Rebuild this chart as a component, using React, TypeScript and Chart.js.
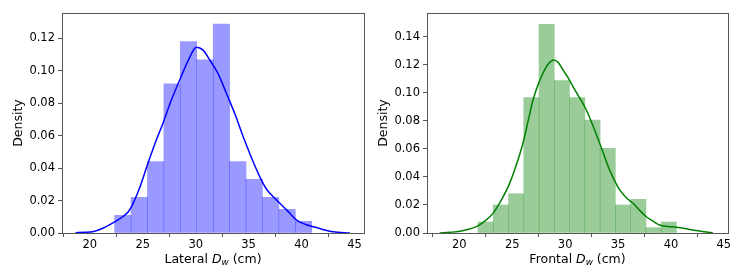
import React, { useEffect, useRef } from "react";
import { Chart, registerables } from "chart.js";

Chart.register(...registerables);

// ---------- data ----------
const lateralBinCenters = [23.12, 24.67, 26.22, 27.77, 29.32, 30.88, 32.43, 33.98, 35.53, 37.08, 38.64, 40.19];
const lateralDensity = [0.0109, 0.022, 0.044, 0.092, 0.118, 0.1068, 0.1288, 0.044, 0.0331, 0.022, 0.0146, 0.0072];
const lateralKdeX = [18.65, 19.5, 20.28, 21.23, 22.34, 23.2, 23.76, 24.6, 25.49, 26.2, 26.91, 27.7, 28.49, 29.3, 30.07, 30.7, 31.32, 32.1, 32.9, 33.7, 34.48, 35.3, 36.05, 36.69, 37.3, 37.95, 38.7, 39.53, 40.3, 41.1, 42.0, 42.99, 44.57];
const lateralKdeY = [0.0002, 0.0004, 0.0008, 0.0029, 0.0068, 0.0105, 0.0142, 0.026, 0.043, 0.056, 0.0677, 0.082, 0.0944, 0.1065, 0.1146, 0.1128, 0.1068, 0.0985, 0.0862, 0.0735, 0.0595, 0.046, 0.0348, 0.027, 0.0225, 0.0183, 0.0135, 0.008, 0.0055, 0.0039, 0.0022, 0.0008, 0.0];

const frontalBinCenters = [22.48, 23.92, 25.37, 26.81, 28.25, 29.69, 31.14, 32.58, 34.02, 35.46, 36.91, 38.35, 39.79];
const frontalDensity = [0.0078, 0.02, 0.028, 0.0965, 0.1488, 0.1087, 0.0965, 0.0806, 0.0604, 0.02, 0.024, 0.0038, 0.0078];
const frontalKdeX = [18.14, 19.1, 20.03, 20.8, 21.6, 22.4, 23.18, 24.0, 24.75, 25.4, 26.01, 26.5, 26.96, 27.45, 27.9, 28.4, 28.91, 29.35, 29.79, 30.3, 30.74, 31.4, 32.0, 32.6, 33.26, 33.7, 34.2, 34.7, 35.15, 35.8, 36.41, 37.0, 37.67, 38.3, 38.93, 39.7, 40.51, 41.3, 42.08, 43.97];
const frontalKdeY = [0.0, 0.0005, 0.0012, 0.0025, 0.0045, 0.0085, 0.014, 0.024, 0.0354, 0.049, 0.064, 0.08, 0.0949, 0.106, 0.1139, 0.1205, 0.1234, 0.1215, 0.1163, 0.1105, 0.1044, 0.096, 0.0877, 0.077, 0.064, 0.055, 0.0449, 0.037, 0.0307, 0.025, 0.0212, 0.0165, 0.0116, 0.0085, 0.0057, 0.0047, 0.0041, 0.0032, 0.0021, 0.0];

const xTickValues = [20, 25, 30, 35, 40, 45];
const lateralYTicks = [0, 0.02, 0.04, 0.06, 0.08, 0.1, 0.12];
const frontalYTicks = [0, 0.02, 0.04, 0.06, 0.08, 0.1, 0.12, 0.14];

const FONT = "'DejaVu Sans', 'Liberation Sans', sans-serif";
const AXIS_COLOR = "#555";

type PanelProps = {
  left: number;
  width: number;
  height: number;
  yAxisWidth: number;
  padRight: number;
  centers: number[];
  density: number[];
  kdeX: number[];
  kdeY: number[];
  yTicks: number[];
  xMin: number;
  xMax: number;
  yMax: number;
  barColor: string;
  lineColor: string;
  label: string;
};

function Panel(p: PanelProps) {
  const ref = useRef<HTMLCanvasElement | null>(null);
  useEffect(() => {
    if (!ref.current) return;
    const framePlugin = {
      id: "frameAndTitles",
      afterDraw(chart: any) {
        const { ctx, chartArea } = chart;
        const a = chartArea;
        ctx.save();
        ctx.strokeStyle = AXIS_COLOR;
        ctx.lineWidth = 1;
        ctx.strokeRect(Math.round(a.left) + 0.5, Math.round(a.top) + 0.5, Math.round(a.right - a.left), Math.round(a.bottom - a.top));
        // y title
        ctx.fillStyle = "#000";
        ctx.font = `12.5px ${FONT}`;
        ctx.textAlign = "center";
        ctx.textBaseline = "middle";
        ctx.save();
        ctx.translate(a.left - 43, (a.top + a.bottom) / 2);
        ctx.rotate(-Math.PI / 2);
        ctx.fillText("Density", 0, 0);
        ctx.restore();
        // x title with italic D and subscript w
        const fs = 12.5;
        const parts = [
          { t: p.label + " ", f: `${fs}px ${FONT}`, dy: 0 },
          { t: "D", f: `italic ${fs}px ${FONT}`, dy: 0 },
          { t: "w", f: `italic ${fs * 0.7}px ${FONT}`, dy: 2.5 },
          { t: " (cm)", f: `${fs}px ${FONT}`, dy: 0 },
        ];
        ctx.textAlign = "left";
        ctx.textBaseline = "alphabetic";
        let total = 0;
        const widths = parts.map((q) => {
          ctx.font = q.f;
          const w = ctx.measureText(q.t).width;
          total += w;
          return w;
        });
        let x = (a.left + a.right) / 2 - total / 2;
        const baseY = 262.5;
        parts.forEach((q, i) => {
          ctx.font = q.f;
          ctx.fillText(q.t, x, baseY + q.dy);
          x += widths[i];
        });
        ctx.restore();
      },
    };
    const chart = new Chart(ref.current, {
      type: "bar",
      data: {
        datasets: [
          {
            type: "line",
            data: p.kdeX.map((x, i) => ({ x, y: p.kdeY[i] })),
            borderColor: p.lineColor,
            borderWidth: 1.5,
            pointRadius: 0,
            cubicInterpolationMode: "monotone",
            fill: false,
            order: 0,
          } as any,
          {
            type: "bar",
            data: p.centers.map((x, i) => ({ x, y: p.density[i] })),
            backgroundColor: p.barColor,
            borderWidth: 0,
            barPercentage: 1,
            categoryPercentage: 1,
            grouped: false,
            order: 1,
          } as any,
        ],
      },
      options: {
        animation: false,
        responsive: false,
        maintainAspectRatio: false,
        layout: { padding: { top: 13, right: p.padRight, left: 0, bottom: 0 } },
        plugins: { legend: { display: false }, tooltip: { enabled: false } },
        scales: {
          x: {
            type: "linear",
            min: p.xMin,
            max: p.xMax,
            offset: false,
            afterBuildTicks: (s: any) => {
              s.ticks = xTickValues.map((v) => ({ value: v }));
            },
            afterFit: (s: any) => {
              s.height = p.height - 233;
            },
            grid: { display: true, drawOnChartArea: false, drawTicks: true, tickLength: 4, color: AXIS_COLOR },
            border: { display: false },
            ticks: {
              color: "#000",
              font: { family: FONT, size: 11.5 },
              padding: 1,
              maxRotation: 0,
              autoSkip: false,
              callback: (v: any) => String(v),
            },
          },
          y: {
            type: "linear",
            min: 0,
            max: p.yMax,
            afterBuildTicks: (s: any) => {
              s.ticks = p.yTicks.map((v) => ({ value: v }));
            },
            afterFit: (s: any) => {
              s.width = p.yAxisWidth;
            },
            grid: { display: true, drawOnChartArea: false, drawTicks: true, tickLength: 4, color: AXIS_COLOR },
            border: { display: false },
            ticks: {
              color: "#000",
              font: { family: FONT, size: 11.5 },
              padding: 3,
              autoSkip: false,
              callback: (v: any) => Number(v).toFixed(2),
            },
          },
        },
      },
      plugins: [framePlugin],
    } as any);
    return () => chart.destroy();
  }, []);
  return (
    <canvas
      ref={ref}
      width={p.width}
      height={p.height}
      style={{ position: "absolute", left: p.left, top: 0, width: p.width, height: p.height }}
    />
  );
}

export default function App() {
  return (
    <div style={{ position: "absolute", left: 0, top: 0, width: 747, height: 280, background: "#fff" }}>
      <Panel
        left={0}
        width={373}
        height={280}
        yAxisWidth={62}
        padRight={9}
        centers={lateralBinCenters}
        density={lateralDensity}
        kdeX={lateralKdeX}
        kdeY={lateralKdeY}
        yTicks={lateralYTicks}
        xMin={17.37}
        xMax={45.9}
        yMax={0.1357}
        barColor="rgba(0,0,255,0.4)"
        lineColor="#0000ff"
        label="Lateral"
      />
      <Panel
        left={373}
        width={374}
        height={280}
        yAxisWidth={54}
        padRight={19}
        centers={frontalBinCenters}
        density={frontalDensity}
        kdeX={frontalKdeX}
        kdeY={frontalKdeY}
        yTicks={frontalYTicks}
        xMin={16.94}
        xMax={45.39}
        yMax={0.1569}
        barColor="rgba(0,128,0,0.4)"
        lineColor="#008000"
        label="Frontal"
      />
    </div>
  );
}
